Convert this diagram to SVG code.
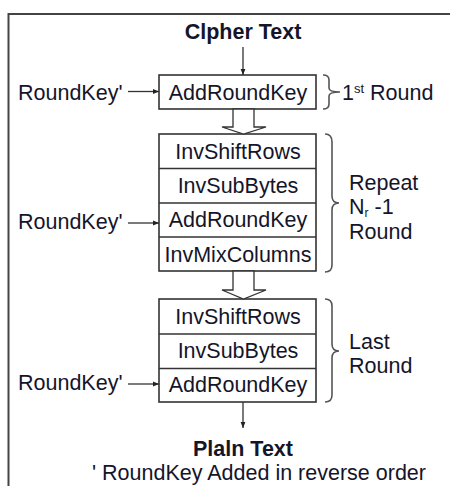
<svg xmlns="http://www.w3.org/2000/svg" width="450" height="486" viewBox="0 0 450 486">
<defs>
<style>
text{font-family:"Liberation Sans",Arial,sans-serif;font-size:21.5px;fill:#15152a}
.b{font-weight:bold}
.m{text-anchor:middle}
.box{fill:#fff;stroke:#333;stroke-width:1.6}
.ln{stroke:#333;stroke-width:1.3;fill:none}
.br{stroke:#555;stroke-width:1.6;fill:none}
.hol{fill:#fff;stroke:#333;stroke-width:1.3}
</style>
<marker id="ah" viewBox="0 0 10 10" refX="10" refY="5" markerWidth="6" markerHeight="6" orient="auto" markerUnits="userSpaceOnUse">
<path d="M0,1 L10,5 L0,9 z" fill="#222"/>
</marker>
</defs>
<rect width="450" height="486" fill="#fff"/>
<path d="M8.5,486 V14 H450" fill="none" stroke="#444" stroke-width="2"/>

<g id="cipher"><text class="b m" x="243" y="39">Clpher Text</text></g>

<g id="round1">
<rect class="box" x="159" y="75" width="157" height="34"/>
<text class="m" x="238" y="100">AddRoundKey</text>
</g>
<g id="key1"><text x="18" y="100">RoundKey'</text></g>
<g id="label1">
<path class="br" d="M323,75 Q329,75 329,80 L329,88 Q329,92 340,92 Q329,92 329,96 L329,104 Q329,109 323,109"/>
<text x="342" y="100">1<tspan font-size="13" dy="-7">st</tspan><tspan dy="7"> Round</tspan></text>
</g>

<g id="round2">
<rect class="box" x="159" y="134" width="157" height="137"/>
<line class="ln" x1="159" y1="168.5" x2="316" y2="168.5"/>
<line class="ln" x1="159" y1="203" x2="316" y2="203"/>
<line class="ln" x1="159" y1="237" x2="316" y2="237"/>
<text class="m" x="238" y="159">InvShiftRows</text>
<text class="m" x="238" y="193">InvSubBytes</text>
<text class="m" x="238" y="227">AddRoundKey</text>
<text class="m" x="238" y="262">InvMixColumns</text>
</g>
<g id="key2"><text x="18" y="229">RoundKey'</text></g>
<g id="label2">
<path class="br" d="M325,134 Q332,134 332,142 L332,196 Q332,203 339,203 Q332,203 332,210 L332,265 Q332,272 325,272"/>
<text x="349" y="190">Repeat</text>
<text x="349" y="214">N<tspan font-size="12" dy="3">r</tspan><tspan dy="-3"> -1</tspan></text>
<text x="349" y="239">Round</text>
</g>

<g id="round3">
<rect class="box" x="159" y="299" width="157" height="103"/>
<line class="ln" x1="159" y1="334" x2="316" y2="334"/>
<line class="ln" x1="159" y1="368.5" x2="316" y2="368.5"/>
<text class="m" x="238" y="324">InvShiftRows</text>
<text class="m" x="238" y="358">InvSubBytes</text>
<text class="m" x="238" y="392">AddRoundKey</text>
</g>
<g id="key3"><text x="18" y="390">RoundKey'</text></g>
<g id="label3">
<path class="br" d="M325,299 Q332,299 332,306 L332,344 Q332,351 339,351 Q332,351 332,358 L332,395 Q332,402 325,402"/>
<text x="349" y="349">Last</text>
<text x="349" y="373">Round</text>
</g>

<g id="plain"><text class="b m" x="243" y="456">Plaln Text</text></g>
<g id="note"><text x="92" y="480">' RoundKey Added in reverse order</text></g>

<g id="connectors">
<line class="ln" x1="243" y1="47" x2="243" y2="75" marker-end="url(#ah)"/>
<line class="ln" x1="128" y1="91.5" x2="159" y2="91.5" marker-end="url(#ah)"/>
<line class="ln" x1="128" y1="223" x2="159" y2="223" marker-end="url(#ah)"/>
<line class="ln" x1="128" y1="384" x2="159" y2="384" marker-end="url(#ah)"/>
<line class="ln" x1="243" y1="402" x2="243" y2="428" marker-end="url(#ah)"/>
<path class="hol" d="M233,109 L254,109 L254,127 L266,127 L243.5,134 L222,127 L233,127 Z"/>
<path class="hol" d="M233,271 L254,271 L254,290 L266,290 L243.5,299 L222,290 L233,290 Z"/>
</g>
</svg>
